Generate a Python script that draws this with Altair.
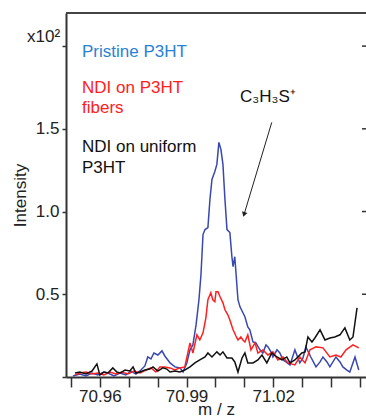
import altair as alt
import pandas as pd

# ---- data (m/z, intensity in units of x10^2) ----
mz_pristine = [70.9507, 70.9531, 70.9552, 70.9573, 70.9593, 70.9614, 70.9628, 70.9649, 70.9670, 70.9690,
               70.9708, 70.9725, 70.9742, 70.9756, 70.9766, 70.9777, 70.9787, 70.9801, 70.9815, 70.9825,
               70.9843, 70.9860, 70.9877, 70.9888, 70.9901, 70.9912, 70.9922, 70.9933, 70.9943, 70.9950,
               70.9957, 70.9964, 70.9974, 70.9981, 70.9988, 70.9998, 71.0005, 71.0012, 71.0019, 71.0026,
               71.0033, 71.0040, 71.0050, 71.0057, 71.0061, 71.0067, 71.0078, 71.0085, 71.0102, 71.0112,
               71.0119, 71.0130, 71.0140, 71.0154, 71.0164, 71.0175, 71.0182, 71.0192, 71.0199, 71.0213,
               71.0223, 71.0234, 71.0244, 71.0258, 71.0275, 71.0292, 71.0303, 71.0313, 71.0330, 71.0348,
               71.0362, 71.0372, 71.0386, 71.0396, 71.0417, 71.0431, 71.0441, 71.0455, 71.0465, 71.0483,
               71.0496]
int_pristine = [0.006, 0.018, 0.006, 0.024, 0.012, 0.030, 0.024, 0.006, 0.024, 0.012,
                0.036, 0.018, 0.042, 0.067, 0.121, 0.109, 0.145, 0.133, 0.158, 0.127,
                0.085, 0.061, 0.055, 0.030, 0.085, 0.164, 0.194, 0.315, 0.467, 0.618,
                0.861, 0.891, 0.903, 1.073, 1.194, 1.242, 1.285, 1.418, 1.376, 1.285,
                1.073, 0.891, 0.873, 0.727, 0.667, 0.727, 0.467, 0.424, 0.364, 0.303,
                0.285, 0.212, 0.206, 0.164, 0.145, 0.194, 0.182, 0.152, 0.121, 0.164,
                0.145, 0.103, 0.091, 0.073, 0.164, 0.085, 0.115, 0.182, 0.121, 0.061,
                0.091, 0.121, 0.091, 0.061, 0.121, 0.091, 0.061, 0.042, 0.030, 0.121,
                0.042]

mz_fibers = [70.9514, 70.9531, 70.9552, 70.9573, 70.9593, 70.9614, 70.9635, 70.9656, 70.9676, 70.9697,
             70.9718, 70.9739, 70.9760, 70.9777, 70.9794, 70.9808, 70.9825, 70.9843, 70.9860, 70.9877,
             70.9894, 70.9912, 70.9922, 70.9936, 70.9946, 70.9957, 70.9967, 70.9974, 70.9984, 70.9991,
             70.9998, 71.0002, 71.0009, 71.0016, 71.0026, 71.0033, 71.0043, 71.0050, 71.0061, 71.0071,
             71.0078, 71.0088, 71.0095, 71.0102, 71.0112, 71.0123, 71.0137, 71.0147, 71.0164, 71.0182,
             71.0199, 71.0216, 71.0234, 71.0251, 71.0275, 71.0292, 71.0310, 71.0327, 71.0348, 71.0372,
             71.0396, 71.0417, 71.0434, 71.0452, 71.0476, 71.0496]
int_fibers = [0.012, 0.024, 0.030, 0.018, 0.024, 0.012, 0.030, 0.018, 0.030, 0.018,
              0.036, 0.024, 0.042, 0.055, 0.030, 0.061, 0.061, 0.055, 0.042, 0.055,
              0.061, 0.206, 0.145, 0.255, 0.224, 0.267, 0.358, 0.467, 0.509, 0.467,
              0.455, 0.515, 0.515, 0.485, 0.448, 0.406, 0.376, 0.345, 0.285, 0.248,
              0.224, 0.242, 0.224, 0.212, 0.255, 0.164, 0.206, 0.145, 0.164, 0.133,
              0.152, 0.103, 0.121, 0.085, 0.073, 0.121, 0.085, 0.164, 0.182, 0.176,
              0.121, 0.133, 0.121, 0.164, 0.194, 0.176]

mz_uniform = [70.9514, 70.9531, 70.9552, 70.9573, 70.9590, 70.9600, 70.9614, 70.9628, 70.9645, 70.9659,
              70.9670, 70.9687, 70.9704, 70.9715, 70.9725, 70.9739, 70.9756, 70.9773, 70.9784, 70.9801,
              70.9818, 70.9832, 70.9843, 70.9860, 70.9877, 70.9894, 70.9912, 70.9929, 70.9946, 70.9964,
              70.9974, 70.9988, 71.0005, 71.0016, 71.0026, 71.0040, 71.0057, 71.0067, 71.0078, 71.0092,
              71.0102, 71.0112, 71.0130, 71.0147, 71.0161, 71.0178, 71.0195, 71.0213, 71.0230, 71.0247,
              71.0258, 71.0275, 71.0299, 71.0310, 71.0320, 71.0334, 71.0344, 71.0362, 71.0379, 71.0396,
              71.0413, 71.0431, 71.0448, 71.0465, 71.0476, 71.0490]
int_uniform = [0.024, 0.030, 0.018, 0.036, 0.079, 0.012, 0.030, 0.024, 0.055, 0.030,
               0.024, 0.042, 0.036, 0.061, 0.024, 0.030, 0.042, 0.048, 0.061, 0.036,
               0.055, 0.048, 0.030, 0.036, 0.030, 0.042, 0.061, 0.085, 0.103, 0.121,
               0.145, 0.121, 0.152, 0.133, 0.152, 0.115, 0.115, 0.091, 0.030, 0.115,
               0.145, 0.085, 0.085, 0.103, 0.133, 0.085, 0.145, 0.121, 0.103, 0.121,
               0.085, 0.103, 0.145, 0.152, 0.242, 0.212, 0.236, 0.285, 0.224, 0.236,
               0.242, 0.255, 0.297, 0.224, 0.242, 0.418]

series_names = ["Pristine P3HT", "NDI on P3HT fibers", "NDI on uniform P3HT"]
series_colors = ["#3848b0", "#ff2020", "#111111"]

x_tick_values = [70.95, 70.96, 70.97, 70.98, 70.99, 71.00, 71.01, 71.02, 71.03, 71.04, 71.05]
x_tick_labels = ["70.96", "70.99", "71.02"]
y_tick_values = [0.0, 0.5, 1.0, 1.5, 2.0]
y_tick_labels = ["0.5", "1.0", "1.5"]

arrow_from = (71.0195, 1.539)
arrow_to = (71.0099, 0.982)

rows = []
for name, xs, ys in zip(series_names,
                        [mz_pristine, mz_fibers, mz_uniform],
                        [int_pristine, int_fibers, int_uniform]):
    for i, (a, b) in enumerate(zip(xs, ys)):
        rows.append({"series": name, "mz": a, "intensity": b, "idx": i})
df = pd.DataFrame(rows)

FONT = "Liberation Sans"
x_scale = alt.Scale(domain=[70.9483, 71.0521], nice=False, zero=False)
y_scale = alt.Scale(domain=[0, 2.2], nice=False, zero=True)

x_label_expr = ("indexof([" + ",".join("'%s'" % s for s in x_tick_labels) +
                "], format(datum.value, '.2f')) >= 0 ? format(datum.value, '.2f') : ''")
y_label_expr = ("indexof([" + ",".join("'%s'" % s for s in y_tick_labels) +
                "], format(datum.value, '.1f')) >= 0 ? format(datum.value, '.1f') : ''")

x_axis = alt.Axis(values=x_tick_values, labelExpr=x_label_expr, tickSize=10,
                  tickWidth=1.5, tickColor="#333", domainColor="#333", domainWidth=2,
                  labelFont=FONT, labelFontSize=17, labelColor="#222", labelPadding=1,
                  labelFlush=False, labelOverlap=False, grid=False,
                  titleFont=FONT, titleFontSize=17,
                  titleFontWeight="normal", titleColor="#222", titlePadding=-3)
y_axis = alt.Axis(values=y_tick_values, labelExpr=y_label_expr, tickSize=4,
                  tickWidth=1.5, tickColor="#333", domainColor="#333", domainWidth=2,
                  labelFont=FONT, labelFontSize=17, labelColor="#222", labelPadding=3,
                  labelOverlap=False, grid=False,
                  titleFont=FONT, titleFontSize=17,
                  titleFontWeight="normal", titleColor="#222", titlePadding=6)
X_TITLE = "m / z"
Y_TITLE = "Intensity"

lines = alt.Chart(df).mark_line(strokeWidth=1.5, clip=True).encode(
    x=alt.X("mz:Q", scale=x_scale, axis=x_axis, title=X_TITLE),
    y=alt.Y("intensity:Q", scale=y_scale, axis=y_axis, title=Y_TITLE),
    color=alt.Color("series:N", scale=alt.Scale(domain=series_names, range=series_colors), legend=None),
    detail="series:N",
    order="idx:Q",
)

dummy = pd.DataFrame({"d": [0]})

top_border = alt.Chart(dummy).mark_rule(color="#444", strokeWidth=2).encode(
    x=alt.value(0), x2=alt.value(300), y=alt.value(0))

right_ticks = alt.Chart(pd.DataFrame({"intensity": y_tick_values[1:]})).mark_rule(
    color="#333", strokeWidth=1.5).encode(
    y=alt.Y("intensity:Q", scale=y_scale, axis=y_axis, title=Y_TITLE),
    x=alt.value(296), x2=alt.value(300))

arrow_df = pd.DataFrame({"mz": [arrow_from[0]], "intensity": [arrow_from[1]],
                         "mz2": [arrow_to[0]], "intensity2": [arrow_to[1]]})
arrow_line = alt.Chart(arrow_df).mark_rule(color="#222", strokeWidth=1).encode(
    x=alt.X("mz:Q", scale=x_scale, axis=x_axis, title=X_TITLE),
    y=alt.Y("intensity:Q", scale=y_scale, axis=y_axis, title=Y_TITLE),
    x2="mz2:Q", y2="intensity2:Q")
arrow_head = alt.Chart(arrow_df).mark_point(shape="triangle-down", filled=True, size=32,
                                            angle=17, color="#222", opacity=1).encode(
    x=alt.X("mz2:Q", scale=x_scale, axis=x_axis, title=X_TITLE),
    y=alt.Y("intensity2:Q", scale=y_scale, axis=y_axis, title=Y_TITLE))


def label(text, x, y, color, size=17, align="left"):
    return alt.Chart(dummy).mark_text(font=FONT, fontSize=size, color=color, align=align,
                                      baseline="alphabetic").encode(
        x=alt.value(x), y=alt.value(y), text=alt.value(text))


texts = [
    label("Pristine P3HT", 16, 44, "#2a82d4"),
    label("NDI on P3HT", 16, 80, "#ff2020"),
    label("fibers", 16, 100, "#ff2020"),
    label("NDI on uniform", 16, 139, "#111111"),
    label("P3HT", 16, 160, "#111111"),
    label("C₃H₃S⁺", 174, 89, "#111111"),
    label("x10²", -39, 29, "#222222"),
]

chart = alt.layer(lines, top_border, right_ticks, arrow_line, arrow_head, *texts).properties(
    width=300, height=364,
    autosize=alt.AutoSizeParams(type="none"),
    padding={"left": 66, "top": 13, "right": 0, "bottom": 40},
    background="white",
).configure_view(stroke=None)

chart.save("out.html", embed_options={"renderer": "svg", "actions": False})
